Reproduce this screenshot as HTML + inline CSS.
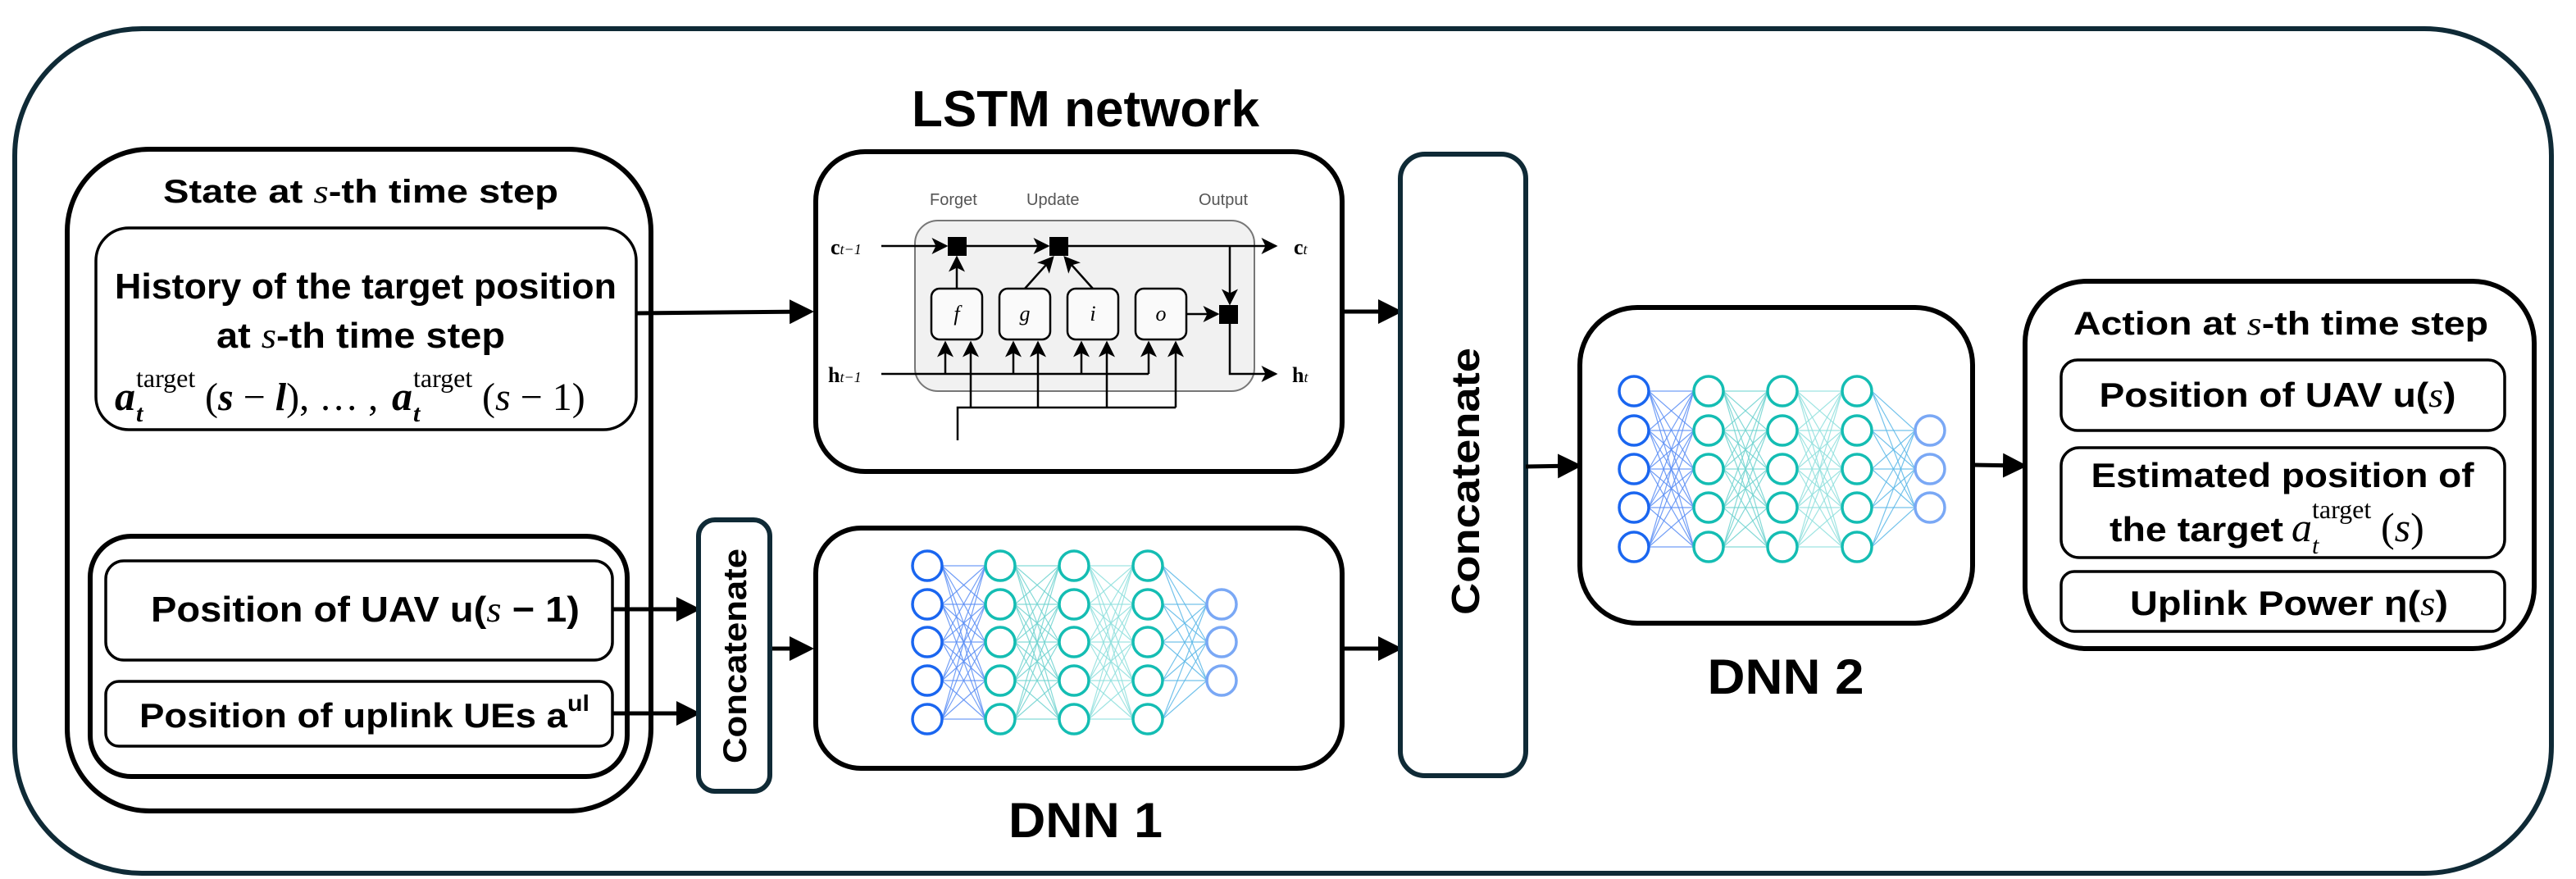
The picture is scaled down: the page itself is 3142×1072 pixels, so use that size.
<!DOCTYPE html>
<html><head><meta charset="utf-8"><style>
html,body{margin:0;padding:0;background:#fff;}
svg{display:block;}
.t{font-family:"Liberation Sans Narrow","Liberation Sans",sans-serif;font-weight:bold;fill:#000;}
.m{font-family:"Liberation Serif",serif;}
.lb{font-family:"Liberation Sans",sans-serif;fill:#555;font-size:20px;}
</style></head><body>
<svg id="s" width="3142" height="1072" viewBox="0 0 3142 1072" xmlns="http://www.w3.org/2000/svg">
<defs>
<marker id="ah" markerWidth="6" markerHeight="6" refX="5" refY="3" orient="auto" markerUnits="strokeWidth"><path d="M0,0 L6,3 L0,6 z" fill="#000"/></marker>
<marker id="as" markerWidth="8" markerHeight="8" refX="7" refY="4" orient="auto" markerUnits="strokeWidth"><path d="M0,0 L8,4 L0,8 L2,4 z" fill="#000"/></marker>
</defs>
<rect x="18" y="35" width="3094" height="1030" rx="155" ry="155" fill="#fff" stroke="#0f2a36" stroke-width="6"/>

<!-- State box -->
<rect x="82" y="182" width="712" height="807" rx="100" fill="none" stroke="#000" stroke-width="6"/>
<text class="t" x="440" y="247" font-size="40" text-anchor="middle" textLength="482" lengthAdjust="spacingAndGlyphs">State at <tspan class="m" font-style="italic" font-weight="normal">s</tspan>-th time step</text>
<rect x="117" y="278" width="659" height="246" rx="40" fill="none" stroke="#000" stroke-width="3.5"/>
<text class="t" x="446" y="364" font-size="44" text-anchor="middle" textLength="612" lengthAdjust="spacingAndGlyphs">History of the target position</text>
<text class="t" x="440" y="424" font-size="44" text-anchor="middle" textLength="352" lengthAdjust="spacingAndGlyphs">at <tspan class="m" font-style="italic" font-weight="normal">s</tspan>-th time step</text>
<g class="m">
<text x="140" y="500" font-size="50" font-style="italic" font-weight="bold">a</text>
<text x="166" y="514" font-size="30" font-style="italic" font-weight="bold">t</text>
<text x="166" y="472" font-size="32">target</text>
<text x="250" y="500" font-size="48">(<tspan font-style="italic" font-weight="bold">s</tspan> − <tspan font-style="italic" font-weight="bold">l</tspan>), … ,</text>
<text x="478" y="500" font-size="50" font-style="italic" font-weight="bold">a</text>
<text x="504" y="514" font-size="30" font-style="italic" font-weight="bold">t</text>
<text x="504" y="472" font-size="32">target</text>
<text x="588" y="500" font-size="48">(<tspan font-style="italic">s</tspan> − 1)</text>
</g>

<rect x="110" y="654" width="655" height="293" rx="50" fill="none" stroke="#000" stroke-width="6"/>
<rect x="129" y="684" width="618" height="121" rx="22" fill="none" stroke="#000" stroke-width="3.5"/>
<text class="t" x="184" y="758" font-size="44" textLength="523" lengthAdjust="spacingAndGlyphs">Position of UAV u(<tspan class="m" font-style="italic" font-weight="normal">s</tspan> − 1)</text>
<rect x="129" y="831" width="618" height="79" rx="16" fill="none" stroke="#000" stroke-width="3.5"/>
<text class="t" x="170" y="887" font-size="42" textLength="549" lengthAdjust="spacingAndGlyphs">Position of uplink UEs a<tspan font-size="28" dy="-20">ul</tspan></text>

<line x1="776" y1="382" x2="988" y2="380" stroke="#000" stroke-width="5" marker-end="url(#ah)"/>
<line x1="747" y1="743" x2="850" y2="743" stroke="#000" stroke-width="5" marker-end="url(#ah)"/>
<line x1="747" y1="870" x2="850" y2="870" stroke="#000" stroke-width="5" marker-end="url(#ah)"/>
<line x1="939" y1="791" x2="988" y2="791" stroke="#000" stroke-width="5" marker-end="url(#ah)"/>

<rect x="852" y="634" width="87" height="331" rx="20" fill="#fff" stroke="#0f2a36" stroke-width="6"/>
<text x="910" y="800" font-family="Liberation Sans,sans-serif" font-weight="bold" font-size="40" text-anchor="middle" transform="rotate(-90 910 800)" textLength="262" lengthAdjust="spacingAndGlyphs">Concatenate</text>

<!-- LSTM -->
<text class="t" x="1324" y="154" font-size="62" text-anchor="middle" textLength="424" lengthAdjust="spacingAndGlyphs">LSTM network</text>
<rect x="995" y="185" width="642" height="390" rx="60" fill="#fff" stroke="#000" stroke-width="6"/>
<rect x="1116" y="269" width="414" height="208" rx="28" fill="#f1f1f1" stroke="#777" stroke-width="2"/>
<text class="lb" x="1134" y="250" font-size="22">Forget</text>
<text class="lb" x="1252" y="250" font-size="22">Update</text>
<text class="lb" x="1462" y="250" font-size="22">Output</text>
<g stroke="#000" stroke-width="2.5" fill="none">
<line x1="1075" y1="300" x2="1154" y2="300" marker-end="url(#as)"/>
<line x1="1179" y1="300" x2="1278" y2="300" marker-end="url(#as)"/>
<line x1="1303" y1="300" x2="1556" y2="300" marker-end="url(#as)"/>
<line x1="1500" y1="300" x2="1500" y2="370" marker-end="url(#as)"/>
<polyline points="1500,394 1500,456 1556,456" marker-end="url(#as)"/>
<line x1="1447" y1="383" x2="1485" y2="383" marker-end="url(#as)"/>
<line x1="1167" y1="352" x2="1167" y2="314" marker-end="url(#as)"/>
<line x1="1250" y1="352" x2="1284" y2="314" marker-end="url(#as)"/>
<line x1="1333" y1="352" x2="1299" y2="314" marker-end="url(#as)"/>
<line x1="1075" y1="456" x2="1401" y2="456"/>
<line x1="1153" y1="456" x2="1153" y2="418" marker-end="url(#as)"/>
<line x1="1236" y1="456" x2="1236" y2="418" marker-end="url(#as)"/>
<line x1="1319" y1="456" x2="1319" y2="418" marker-end="url(#as)"/>
<line x1="1401" y1="456" x2="1401" y2="418" marker-end="url(#as)"/>
<line x1="1184" y1="497" x2="1184" y2="418" marker-end="url(#as)"/>
<line x1="1266" y1="497" x2="1266" y2="418" marker-end="url(#as)"/>
<line x1="1350" y1="497" x2="1350" y2="418" marker-end="url(#as)"/>
<line x1="1434" y1="497" x2="1434" y2="418" marker-end="url(#as)"/>
<polyline points="1434,497 1168,497 1168,537"/>
<rect x="1136" y="352" width="62" height="62" rx="10" fill="#fafafa"/>
<rect x="1219" y="352" width="62" height="62" rx="10" fill="#fafafa"/>
<rect x="1302" y="352" width="62" height="62" rx="10" fill="#fafafa"/>
<rect x="1385" y="352" width="62" height="62" rx="10" fill="#fafafa"/>
</g>
<rect x="1156" y="289" width="23" height="23" fill="#000"/>
<rect x="1280" y="289" width="23" height="23" fill="#000"/>
<rect x="1487" y="372" width="23" height="23" fill="#000"/>
<g class="m" font-style="italic" font-size="26" text-anchor="middle">
<text x="1167" y="391">f</text><text x="1250" y="391">g</text><text x="1333" y="391">i</text><text x="1416" y="391">o</text>
</g>
<g class="m" font-weight="bold" font-size="26">
<text x="1013" y="310">c<tspan font-size="18" font-style="italic" font-weight="normal">t−1</tspan></text>
<text x="1010" y="466">h<tspan font-size="18" font-style="italic" font-weight="normal">t−1</tspan></text>
<text x="1578" y="310">c<tspan font-size="18" font-style="italic" font-weight="normal">t</tspan></text>
<text x="1576" y="466">h<tspan font-size="18" font-style="italic" font-weight="normal">t</tspan></text>
</g>

<!-- DNN1 -->
<rect x="995" y="644" width="642" height="293" rx="55" fill="#fff" stroke="#000" stroke-width="6"/>
<g id="n1"></g>
<text class="t" x="1324" y="1021" font-size="60" text-anchor="middle" textLength="188" lengthAdjust="spacingAndGlyphs">DNN 1</text>

<line x1="1637" y1="380" x2="1706" y2="380" stroke="#000" stroke-width="5" marker-end="url(#ah)"/>
<line x1="1637" y1="791" x2="1706" y2="791" stroke="#000" stroke-width="5" marker-end="url(#ah)"/>

<rect x="1708" y="188" width="153" height="758" rx="30" fill="#fff" stroke="#0f2a36" stroke-width="6"/>
<text x="1804" y="587" font-family="Liberation Sans,sans-serif" font-weight="bold" font-size="48" text-anchor="middle" transform="rotate(-90 1804 587)" textLength="326" lengthAdjust="spacingAndGlyphs">Concatenate</text>

<line x1="1861" y1="569" x2="1925" y2="568" stroke="#000" stroke-width="5" marker-end="url(#ah)"/>

<!-- DNN2 -->
<rect x="1927" y="375" width="479" height="385" rx="70" fill="#fff" stroke="#000" stroke-width="6"/>
<g id="n2"></g>
<text class="t" x="2178" y="846" font-size="60" text-anchor="middle" textLength="191" lengthAdjust="spacingAndGlyphs">DNN 2</text>

<line x1="2406" y1="567" x2="2468" y2="568" stroke="#000" stroke-width="5" marker-end="url(#ah)"/>

<!-- Action -->
<rect x="2470" y="343" width="621" height="448" rx="75" fill="#fff" stroke="#000" stroke-width="6"/>
<text class="t" x="2782" y="408" font-size="40" text-anchor="middle" textLength="506" lengthAdjust="spacingAndGlyphs">Action at <tspan class="m" font-style="italic" font-weight="normal">s</tspan>-th time step</text>
<rect x="2514" y="439" width="541" height="86" rx="20" fill="none" stroke="#000" stroke-width="3.5"/>
<text class="t" x="2778" y="496" font-size="42" text-anchor="middle" textLength="435" lengthAdjust="spacingAndGlyphs">Position of UAV u(<tspan class="m" font-style="italic" font-weight="normal">s</tspan>)</text>
<rect x="2514" y="546" width="541" height="134" rx="22" fill="none" stroke="#000" stroke-width="3.5"/>
<text class="t" x="2784" y="594" font-size="42" text-anchor="middle" textLength="467" lengthAdjust="spacingAndGlyphs">Estimated position of</text>
<text class="t" x="2573" y="660" font-size="42" textLength="212" lengthAdjust="spacingAndGlyphs">the target</text>
<g class="m">
<text x="2795" y="660" font-size="50" font-style="italic">a</text>
<text x="2820" y="675" font-size="30" font-style="italic">t</text>
<text x="2820" y="632" font-size="32">target</text>
<text x="2904" y="660" font-size="50">(<tspan font-style="italic">s</tspan>)</text>
</g>
<rect x="2514" y="697" width="541" height="73" rx="16" fill="none" stroke="#000" stroke-width="3.5"/>
<text class="t" x="2792" y="750" font-size="42" text-anchor="middle" textLength="388" lengthAdjust="spacingAndGlyphs">Uplink Power η(<tspan class="m" font-style="italic" font-weight="normal">s</tspan>)</text>
</svg>
<script>
function net(id,xs,ys,oys,r){
  var g=document.getElementById(id),h="";
  var cols=[ys,ys,ys,ys,oys];
  var lc=["#5a8ef5","#6fd3d0","#8fe0dd","#5bb8e8"];
  for(var c=0;c<4;c++){
    for(var i=0;i<cols[c].length;i++)for(var j=0;j<cols[c+1].length;j++){
      h+='<line x1="'+(xs[c]+r)+'" y1="'+cols[c][i]+'" x2="'+(xs[c+1]-r)+'" y2="'+cols[c+1][j]+'" stroke="'+lc[c]+'" stroke-width="1.2" opacity="0.85"/>';
    }
  }
  var cc=["#1a66f0","#14bdb3","#14bdb3","#14bdb3","#7aa8f5"];
  for(var c=0;c<5;c++)for(var i=0;i<cols[c].length;i++){
    h+='<circle cx="'+xs[c]+'" cy="'+cols[c][i]+'" r="'+r+'" fill="#fff" stroke="'+cc[c]+'" stroke-width="3.5"/>';
  }
  g.innerHTML=h;
}
net("n1",[1131,1220,1310,1400,1490],[690,737,783,830,877],[737,783,830],18);
net("n2",[1993,2084,2174,2265,2354],[477,525,572,619,667],[525,572,619],18);
</script>
</body></html>
